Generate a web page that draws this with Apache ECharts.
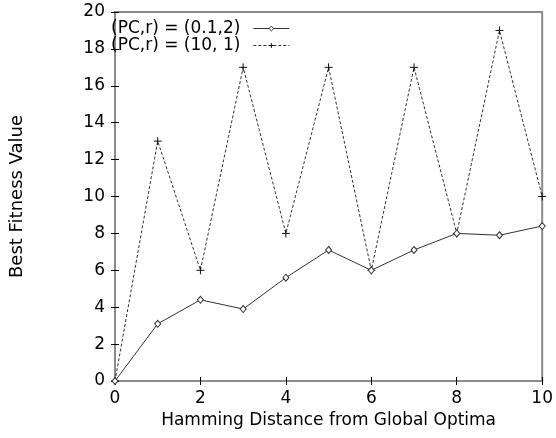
<!DOCTYPE html>
<html>
<head>
<meta charset="utf-8">
<script src="https://cdn.jsdelivr.net/npm/echarts@6/dist/echarts.min.js"></script>
<style>
  html, body { margin: 0; padding: 0; background: #fff; }
  #main { width: 556px; height: 438px; }
</style>
</head>
<body>
<div id="main"></div>
<script>
// Hamming distance (x) and best fitness values for both settings
const distances = [0, 1, 2, 3, 4, 5, 6, 7, 8, 9, 10];
const fitnessLow = [0, 3.1, 4.4, 3.9, 5.6, 7.1, 6.0, 7.1, 8.0, 7.9, 8.4];   // (0.1,2)
const fitnessHigh = [0, 13, 6, 17, 8, 17, 6, 17, 8, 19, 10];                 // (10, 1)
const seriesNames = ['(PC,r) = (0.1,2)', '(PC,r) = (10, 1)'];

const font = 'DejaVu Sans';
const axisGrey = '#8a8a8a';
const plus = 'path://M0,5L10,5M5,0L5,10';

function pairs(ys) {
  return distances.map((x, i) => [x, ys[i]]);
}

const mirrorAxis = {
  min: 0,
  interval: 2,
  axisLine: { show: false },
  axisTick: { show: true, inside: true, length: 4, lineStyle: { color: '#000' } },
  axisLabel: { show: false },
  splitLine: { show: false }
};

const option = {
  animation: false,
  textStyle: { fontFamily: font },
  grid: { left: 113, right: 10, top: 12, bottom: 57, show: true, borderColor: axisGrey, borderWidth: 2 },
  legend: {
    orient: 'vertical',
    left: 111,
    top: 20,
    padding: 0,
    align: 'right',
    itemWidth: 36,
    itemHeight: 6,
    itemGap: 0,
    textStyle: { fontFamily: font, fontSize: 17, color: '#000', lineHeight: 16, padding: [0, 8, 0, 0] },
    lineStyle: { width: 1 },
    itemStyle: { borderWidth: 1 },
    data: seriesNames
  },
  xAxis: [
    {
      type: 'value', min: 0, max: 10, interval: 2,
      name: 'Hamming Distance from Global Optima',
      nameLocation: 'middle', nameGap: 31,
      nameTextStyle: { fontFamily: font, fontSize: 17, color: '#000' },
      axisLine: { show: false },
      axisTick: { inside: true, length: 4, lineStyle: { color: '#000' } },
      axisLabel: { fontFamily: font, fontSize: 17, color: '#000', margin: 9 },
      splitLine: { show: false }
    },
    Object.assign({ type: 'value', position: 'top', max: 10 }, mirrorAxis)
  ],
  yAxis: [
    {
      type: 'value', min: 0, max: 20, interval: 2,
      name: 'Best Fitness Value',
      nameLocation: 'middle', nameGap: 89,
      nameTextStyle: { fontFamily: font, fontSize: 18, color: '#000' },
      axisLine: { show: false },
      axisTick: { inside: true, length: 4, lineStyle: { color: '#000' } },
      axisLabel: { fontFamily: font, fontSize: 17, color: '#000', margin: 10 },
      splitLine: { show: false }
    },
    Object.assign({ type: 'value', position: 'right', max: 20 }, mirrorAxis)
  ],
  series: [
    {
      name: seriesNames[0],
      type: 'line',
      data: pairs(fitnessLow),
      symbol: 'diamond',
      symbolSize: [6, 7],
      showAllSymbol: true,
      lineStyle: { color: '#333', width: 1 },
      itemStyle: { color: '#fff', borderColor: '#333', borderWidth: 1 },
      z: 3
    },
    {
      name: seriesNames[1],
      type: 'line',
      data: pairs(fitnessHigh),
      symbol: plus,
      symbolSize: 8,
      showAllSymbol: true,
      lineStyle: { color: '#333', width: 1, type: [3, 2] },
      itemStyle: { color: 'none', borderColor: '#111', borderWidth: 1 },
      z: 2
    }
  ]
};

const chart = echarts.init(document.getElementById('main'));
chart.setOption(option);
</script>
</body>
</html>
